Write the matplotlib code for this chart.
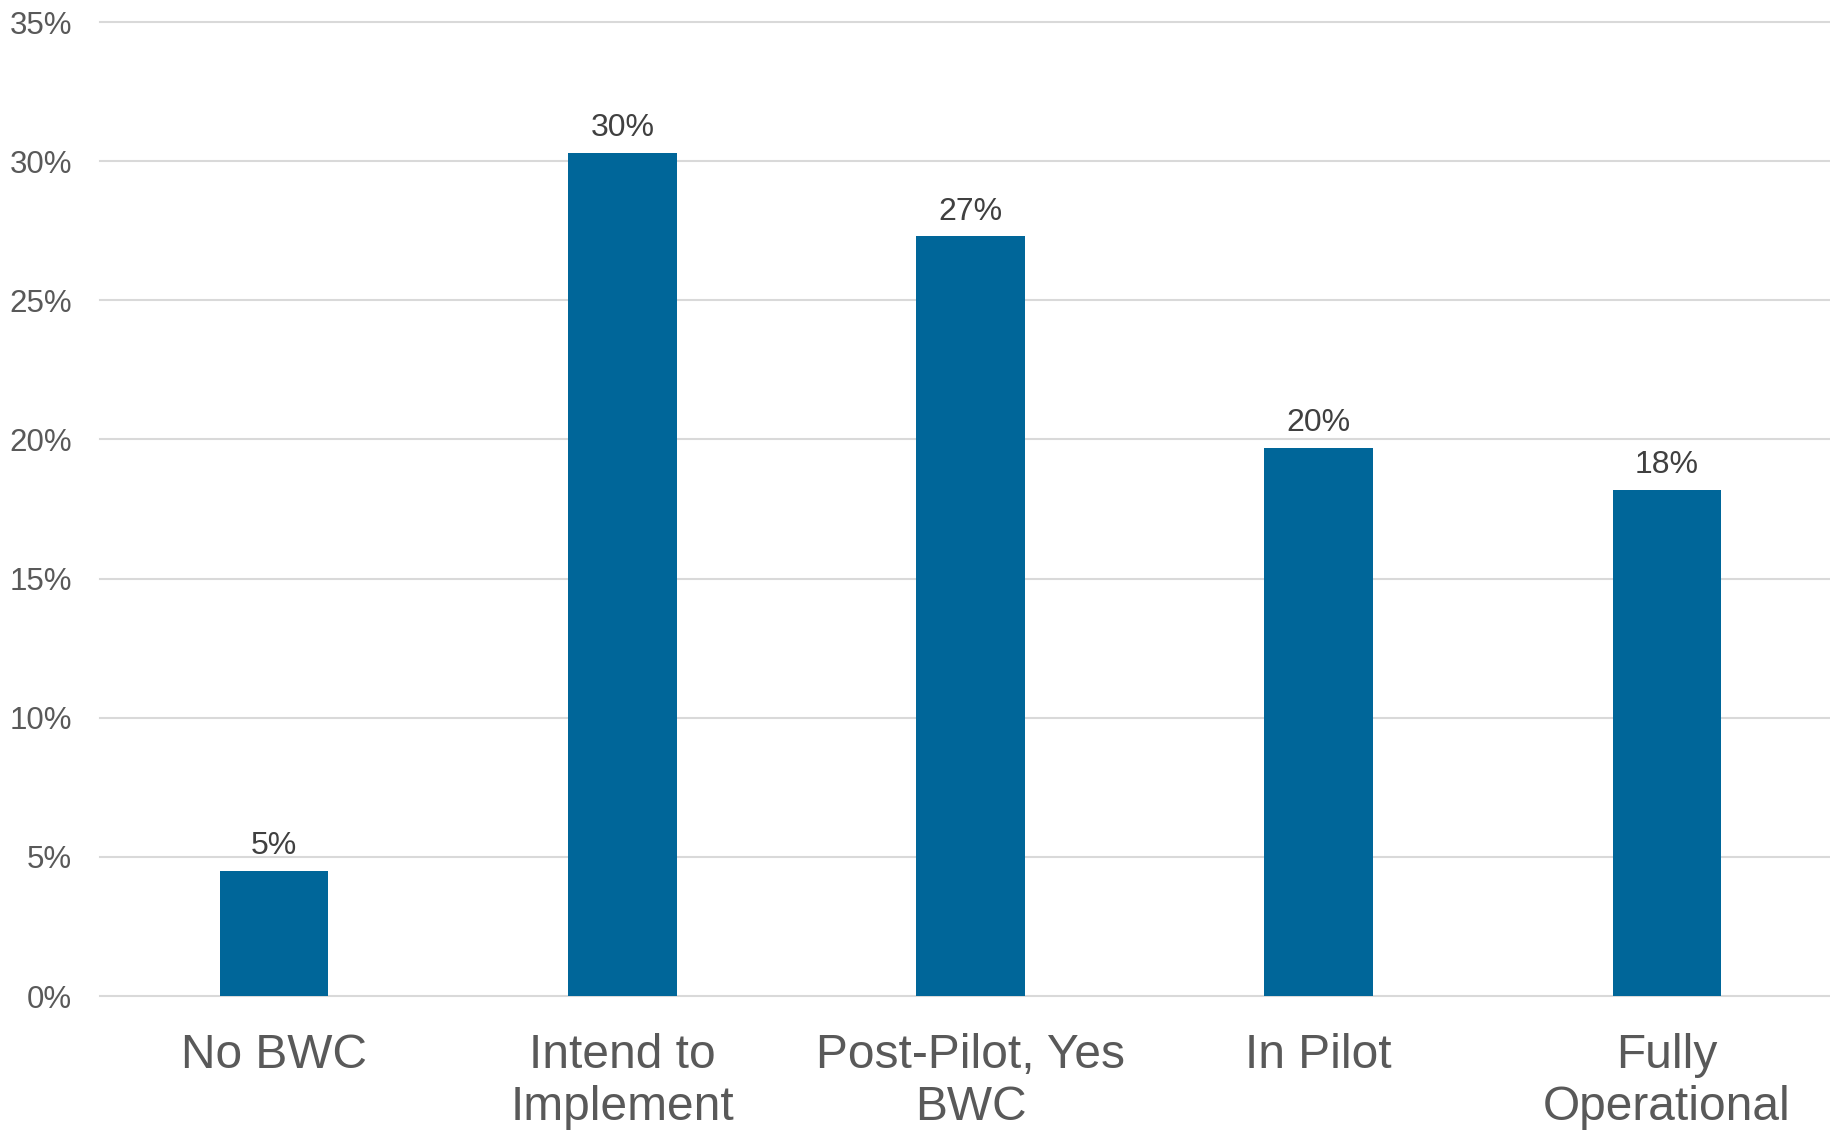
import numpy as np
import matplotlib
matplotlib.use('Agg')
import matplotlib.pyplot as plt
from matplotlib.ticker import FuncFormatter

plt.rcParams['font.family'] = ['Liberation Sans', 'DejaVu Sans']

categories = ['No BWC', 'Intend to\nImplement', 'Post-Pilot, Yes\nBWC', 'In Pilot', 'Fully\nOperational']
values = [4.5, 30.3, 27.3, 19.7, 18.2]
labels = ['5%', '30%', '27%', '20%', '18%']
yticks = [0, 5, 10, 15, 20, 25, 30, 35]

fig = plt.figure(figsize=(18.31, 11.33), dpi=100)
ax = fig.add_axes([100 / 1831, 137 / 1133, 1741 / 1831, 974 / 1133])

x = np.arange(len(categories))
bars = ax.bar(x, values, width=0.312, color='#006699', zorder=3)

for b, lab in zip(bars, labels):
    ax.annotate(lab, (b.get_x() + b.get_width() / 2, b.get_height()),
                xytext=(0, 7), textcoords='offset points',
                ha='center', va='bottom', fontsize=23, color='#404040')

ax.set_xlim(-0.5, len(categories) - 0.5)
ax.set_ylim(0, 35)
ax.set_yticks(yticks)
ax.yaxis.set_major_formatter(FuncFormatter(lambda v, p: f'{v:.0f}%'))
ax.set_xticks(x)
ax.set_xticklabels(categories, fontsize=34.5, color='#595959', linespacing=1.2)
ax.tick_params(axis='x', length=0, pad=27)
ax.tick_params(axis='y', length=0, pad=20, labelsize=22.5, labelcolor='#595959')

ax.grid(axis='y', color='#d9d9d9', linewidth=1.5, zorder=0)
ax.set_axisbelow(True)
for line in ax.get_ygridlines():
    line.set_clip_on(False)
for s in ax.spines.values():
    s.set_visible(False)

fig.savefig('out.png', dpi=100)
